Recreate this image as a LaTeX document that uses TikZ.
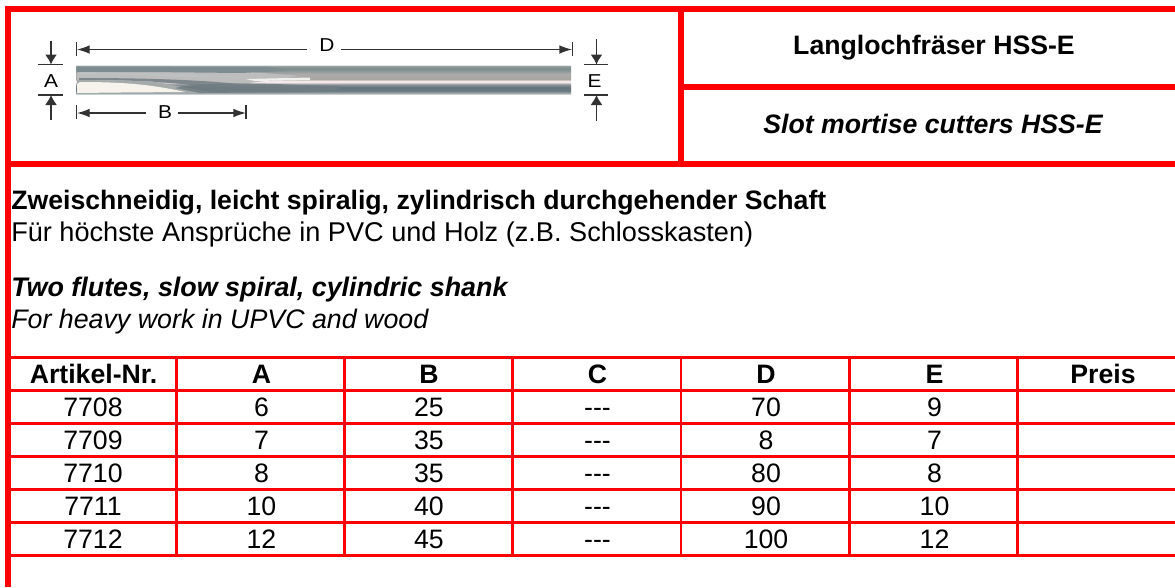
\documentclass[tikz,border=0pt]{standalone}
\usepackage{fontspec}
\setmainfont{Liberation Sans}[Ligatures=NoCommon]
\usetikzlibrary{arrows.meta}
\definecolor{rd}{RGB}{255,0,0}
\definecolor{ink}{RGB}{50,50,50}
\definecolor{fa}{RGB}{125,140,145}
\definecolor{fb}{RGB}{190,195,195}
\definecolor{fc}{RGB}{110,122,128}
\definecolor{fd}{RGB}{240,240,238}
\definecolor{fe}{RGB}{165,170,170}
\definecolor{ff}{RGB}{245,243,235}
\definecolor{fg}{RGB}{112,125,130}
\pgfdeclareverticalshading{shank}{100bp}{
 rgb(0bp)=(1,1,1);
 rgb(25bp)=(.89,.90,.90);
 rgb(27bp)=(.65,.69,.70);
 rgb(31bp)=(.43,.49,.52);
 rgb(37bp)=(.39,.45,.48);
 rgb(42bp)=(.55,.58,.59);
 rgb(46bp)=(.96,.91,.92);
 rgb(48bp)=(.96,.91,.92);
 rgb(51bp)=(.66,.65,.63);
 rgb(60bp)=(.67,.67,.67);
 rgb(68bp)=(.49,.55,.55);
 rgb(73bp)=(.55,.60,.59);
 rgb(75bp)=(.89,.90,.90);
 rgb(100bp)=(1,1,1)}
\tikzset{
 x=0.75pt,y=-0.75pt,
 heavy/.style={draw=rd,line width=4.5pt},
 grid/.style={draw=rd,line width=2.1pt},
 dim/.style={draw=ink,line width=1pt},
 dimtip/.style={dim,-{Latex[length=9.5pt,width=6.5pt]}},
 vtip/.style={dim,-{Latex[length=7.5pt,width=9pt]}},
 tick/.style={dim},
 dimlab/.style={font=\fontsize{14}{14}\selectfont,inner sep=0pt,xscale=1.12,text=black},
 cell/.style={font=\fontsize{20}{20}\selectfont,inner sep=0pt,anchor=base},
 head/.style={cell,font=\fontsize{20}{20}\selectfont\bfseries},
 txt/.style={font=\fontsize{20}{20}\selectfont,inner sep=0pt,anchor=base west},
}
\begin{document}
\begin{tikzpicture}
\useasboundingbox (0,0) rectangle (1175,587);
\fill[white] (0,0) rectangle (1175,587);
% cutter
\shade[shading=shank] (76,65) rectangle (571,94.5);
% left flute section
\fill[gray!52!white] (77,72) -- (250,72) -- (300,76) -- (250,83) -- (77,83) -- cycle;
\fill[fa] (77,66.5) -- (270,67) -- (285,71) -- (240,73) -- (150,72) -- (77,72) -- cycle;
\fill[fb,opacity=.8] (80,72) .. controls (140,73) and (200,74) .. (240,77) -- (175,77) .. controls (130,74) and (100,74) .. (80,75) -- cycle;
\fill[fc,opacity=.8] (79,78) .. controls (130,78) and (190,79) .. (240,84) -- (200,86) .. controls (150,80) and (110,80) .. (79,80) -- cycle;
\fill[fd] (246,79) -- (310,77.5) -- (310,80) -- (255,81) -- cycle;
\fill[fe] (77,80) -- (150,81) -- (215,93) -- (77,93) -- cycle;
\fill[ff] (77,84) -- (80,82) .. controls (120,82) and (150,84) .. (185,92) -- (120,92.5) -- (77,93) -- cycle;
\fill[fg,opacity=.85] (175,88) .. controls (200,82) and (260,83) .. (300,85) -- (340,86) -- (340,89) -- (310,92) -- (200,93) -- cycle;
% dimensions
\coordinate (dL) at (77,49.5); \coordinate (dR) at (572,49.5);
\node[dimlab] (D) at (327,45.5) {D};
\coordinate (d1) at (307,49.5); \coordinate (d2) at (341,49.5);
\draw[dimtip] (d1) -- (dL);
\draw[dimtip] (d2) -- (dR);
\draw[tick] (76.5,42) -- (76.5,56);
\draw[tick] (572.5,42) -- (572.5,56);
\coordinate (bL) at (77,113); \coordinate (bR) at (246,113);
\coordinate (b1) at (146,113); \coordinate (b2) at (178,113);
\node[dimlab] (B) at (165,112) {B};
\draw[dimtip] (b1) -- (bL);
\draw[dimtip] (b2) -- (bR);
\draw[tick] (76.5,105) -- (76.5,119);
\draw[tick] (246,105) -- (246,119);
\node[dimlab] (A) at (51,81) {A};
\draw[tick] (38,64.5) -- (63,64.5);
\draw[tick] (38,95) -- (63,95);
\coordinate (aT) at (51,64.5); \coordinate (aB) at (51,95);
\draw[vtip] (51,40.5) -- (aT);
\draw[vtip] (51,119.5) -- (aB);
\node[dimlab] (E) at (594.5,81) {E};
\draw[tick] (584,64.5) -- (608,64.5);
\draw[tick] (584,95) -- (608,95);
\coordinate (eT) at (596.5,64.5); \coordinate (eB) at (596.5,95);
\draw[vtip] (596.5,39) -- (eT);
\draw[vtip] (596.5,121) -- (eB);
% heavy frame
\draw[heavy] (8,587) -- (8,9) -- (1175,9);
\draw[heavy] (8,164) -- (1175,164);
\draw[heavy] (681,9) -- (681,164);
\draw[heavy] (681,87) -- (1175,87);
% titles
\node[font=\fontsize{20}{20}\selectfont\bfseries,inner sep=0pt] (t1) at (934,48) {Langlochfräser HSS-E};
\node[font=\fontsize{20}{20}\selectfont\bfseries\itshape,inner sep=0pt] (t2) at (933,124) {Slot mortise cutters HSS-E};
% text
\node[txt,font=\fontsize{20}{20}\selectfont\bfseries] (l1) at (11,209) {Zweischneidig, leicht spiralig, zylindrisch durchgehender Schaft};
\node[txt,font=\fontsize{20.35}{20.35}\selectfont] (l2) at (11,241) {Für höchste Ansprüche in PVC und Holz (z.B. Schlosskasten)};
\node[txt,font=\fontsize{20.15}{20.15}\selectfont\bfseries\itshape] (l3) at (11,296) {Two flutes, slow spiral, cylindric shank};
\node[txt,font=\fontsize{20.1}{20.1}\selectfont\itshape] (l4) at (11,328) {For heavy work in UPVC and wood};
% table
\foreach \y in {357.3,390.2,423.3,456.3,489.3,522.3,555.3} \draw[grid] (11,\y) -- (1175,\y);
\foreach \x in {176.3,344.3,512.3,681,849.7,1017.7} \draw[grid] (\x,357.3) -- (\x,555.3);
\foreach \n/\x/\t in {ha/93.5/Artikel-Nr.,hb/261.5/A,hc/429/B,hd/597.5/C,he/766/D,hf/934.5/E,hg/1103/Preis}
  \node[head] (\n) at (\x,383) {\t};
\foreach \n/\y/\a/\b/\c/\d/\e in {r/416/7708/6/25/70/9,s/449/7709/7/35/8/7,t/482/7710/8/35/80/8,u/515/7711/10/40/90/10,v/548/7712/12/45/100/12}{
  \node[cell] (\n a) at (93,\y) {\a};
  \node[cell] (\n b) at (261.5,\y) {\b};
  \node[cell] (\n c) at (429,\y) {\c};
  \node[cell] (\n d) at (597.5,\y) {-{}-{}-};
  \node[cell] (\n e) at (766,\y) {\d};
  \node[cell] (\n f) at (934.5,\y) {\e};
}
\end{tikzpicture}
\end{document}
